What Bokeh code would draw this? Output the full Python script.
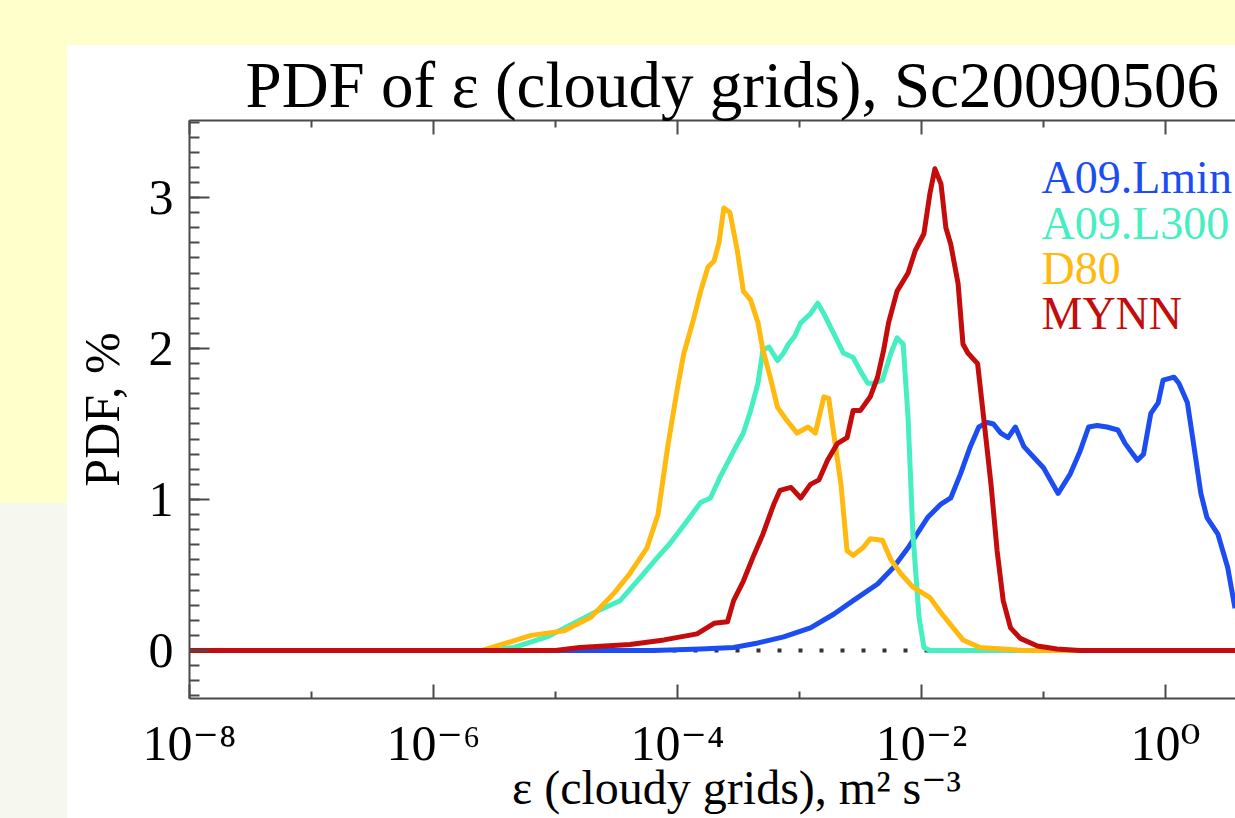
import numpy as np
from bokeh.plotting import figure
from bokeh.models import FixedTicker, CustomJSTickFormatter, LogAxis, Label, Span, Div
from bokeh.layouts import row, column
from bokeh.embed import file_html
from bokeh.resources import INLINE

# ---------------- data (log10 of epsilon, PDF in %) ----------------
series_names = ["A09.Lmin", "A09.L300", "D80", "MYNN"]
series_colors = ["#1C4DF2", "#45EFC0", "#FFB90F", "#C40C0C"]

lmin_log_eps = [-8.0, -4.2, -3.81, -3.54, -3.34, -3.13, -2.91, -2.72, -2.56, -2.36, -2.23, -2.11,
                -1.95, -1.84, -1.76, -1.68, -1.60, -1.53, -1.46, -1.41, -1.35, -1.29, -1.23, -1.16,
                -1.08, -1.00, -0.88, -0.78, -0.70, -0.63, -0.56, -0.48, -0.39, -0.33, -0.23, -0.18,
                -0.12, -0.06, -0.02, 0.07, 0.11, 0.18, 0.23, 0.29, 0.34, 0.43, 0.51, 0.57]
lmin_pdf = [0.0, 0.0, 0.01, 0.02, 0.05, 0.09, 0.15, 0.24, 0.33, 0.44, 0.55, 0.68,
            0.88, 0.97, 1.01, 1.17, 1.35, 1.48, 1.51, 1.50, 1.44, 1.41, 1.48, 1.35,
            1.28, 1.21, 1.04, 1.17, 1.32, 1.48, 1.49, 1.48, 1.46, 1.37, 1.26, 1.30,
            1.57, 1.64, 1.79, 1.81, 1.77, 1.64, 1.37, 1.04, 0.88, 0.77, 0.55, 0.28]

l300_log_eps = [-8.0, -5.6, -5.34, -5.07, -4.85, -4.66, -4.47, -4.33, -4.16, -4.06, -3.92, -3.81,
                -3.73, -3.65, -3.54, -3.46, -3.40, -3.34, -3.30, -3.25, -3.18, -3.13, -3.09, -3.04,
                -2.99, -2.91, -2.85, -2.80, -2.72, -2.64, -2.56, -2.50, -2.44, -2.39, -2.32, -2.25,
                -2.20, -2.15, -2.11, -2.07, -2.02, -1.98, -1.93, 0.6]
l300_pdf = [0.0, 0.0, 0.02, 0.09, 0.18, 0.26, 0.33, 0.46, 0.62, 0.71, 0.86, 0.98,
            1.01, 1.15, 1.32, 1.44, 1.59, 1.77, 1.99, 2.01, 1.92, 1.97, 2.03, 2.08,
            2.17, 2.23, 2.30, 2.23, 2.10, 1.97, 1.94, 1.85, 1.77, 1.77, 1.79, 1.97,
            2.07, 2.03, 1.54, 0.77, 0.22, 0.02, 0.0, 0.0]

d80_log_eps = [-8.0, -5.6, -5.48, -5.20, -4.93, -4.71, -4.52, -4.39, -4.25, -4.16, -4.08, -4.00,
               -3.95, -3.87, -3.81, -3.75, -3.70, -3.66, -3.62, -3.57, -3.51, -3.46, -3.40, -3.34,
               -3.30, -3.24, -3.18, -3.10, -3.02, -2.93, -2.87, -2.80, -2.76, -2.72, -2.66, -2.61,
               -2.56, -2.48, -2.42, -2.32, -2.25, -2.17, -2.07, -1.93, -1.84, -1.74, -1.66, -1.52,
               -1.16, 0.6]
d80_pdf = [0.0, 0.0, 0.03, 0.10, 0.13, 0.22, 0.38, 0.51, 0.68, 0.90, 1.35, 1.74,
           1.96, 2.19, 2.38, 2.54, 2.58, 2.70, 2.93, 2.90, 2.65, 2.38, 2.32, 2.17,
           1.99, 1.81, 1.61, 1.52, 1.44, 1.48, 1.44, 1.68, 1.67, 1.44, 1.10, 0.66,
           0.63, 0.68, 0.74, 0.73, 0.60, 0.51, 0.42, 0.35, 0.25, 0.15, 0.07, 0.02,
           0.0, 0.0]

mynn_log_eps = [-8.0, -5.0, -4.80, -4.39, -4.11, -3.84, -3.70, -3.59, -3.54, -3.46, -3.38, -3.30,
                -3.21, -3.16, -3.07, -2.99, -2.91, -2.84, -2.77, -2.69, -2.61, -2.56, -2.50, -2.42,
                -2.36, -2.31, -2.27, -2.20, -2.11, -2.05, -1.98, -1.93, -1.89, -1.84, -1.80, -1.76,
                -1.70, -1.66, -1.62, -1.54, -1.49, -1.43, -1.38, -1.33, -1.27, -1.19, -1.05, -0.89,
                -0.7, 0.6]
mynn_pdf = [0.0, 0.0, 0.02, 0.04, 0.07, 0.11, 0.18, 0.19, 0.33, 0.46, 0.62, 0.77,
            0.97, 1.06, 1.08, 1.01, 1.10, 1.13, 1.26, 1.37, 1.41, 1.59, 1.59, 1.68,
            1.81, 1.99, 2.17, 2.38, 2.50, 2.65, 2.76, 3.03, 3.19, 3.09, 2.80, 2.69,
            2.43, 2.03, 1.97, 1.90, 1.54, 1.10, 0.66, 0.33, 0.15, 0.08, 0.03, 0.01,
            0.0, 0.0]

x_major_ticks = [1e-8, 1e-6, 1e-4, 1e-2, 1e0]
x_minor_ticks = [1e-7, 1e-5, 1e-3, 1e-1]
y_major_ticks = [0, 1, 2, 3]

title_text = "PDF of \u03b5 (cloudy grids), Sc20090506"
xlabel_text = "\u03b5 (cloudy grids), m\u00b2 s\u207b\u00b3"
ylabel_text = "PDF, %"

# ---------------- figure ----------------
FONT = "Liberation Serif"
FONT_SUP = "Liberation Serif, DejaVu Serif, serif"
AX = "#4a4a4a"

p = figure(width=1168, height=773, x_axis_type="log",
           x_range=(1e-8, 10 ** 0.574), y_range=(-0.318, 3.51),
           output_backend="svg", toolbar_location=None,
           min_border_left=122, min_border_right=0, min_border_top=75, min_border_bottom=120)
p.outline_line_color = None
p.xgrid.visible = False
p.ygrid.visible = False
p.background_fill_color = "white"
p.border_fill_color = "white"

p.title.text = title_text
p.title.text_font = FONT
p.title.text_font_size = "65px"
p.title.text_font_style = "normal"
p.title.text_color = "black"
p.title.align = "left"
p.title.offset = 56
p.title.standoff = 0

sup_fmt = CustomJSTickFormatter(code="""
const e = Math.round(Math.log10(tick));
const s = {"-":"\u207b","0":"\u2070","1":"\u00b9","2":"\u00b2","3":"\u00b3","4":"\u2074","5":"\u2075","6":"\u2076","7":"\u2077","8":"\u2078","9":"\u2079"};
return "10" + String(e).split("").map(c => s[c]).join("");
""")
blank_fmt = CustomJSTickFormatter(code='return "";')

xa = p.xaxis[0]
xa.ticker = FixedTicker(ticks=x_major_ticks, minor_ticks=x_minor_ticks)
xa.formatter = sup_fmt
xa.major_label_text_font = FONT_SUP
xa.major_label_text_font_size = "50px"
xa.major_label_text_color = "black"
xa.major_label_standoff = 16
xa.major_tick_in = 14
xa.major_tick_out = 0
xa.minor_tick_in = 7
xa.minor_tick_out = 0
xa.axis_line_color = AX
xa.axis_line_width = 2
xa.major_tick_line_color = AX
xa.major_tick_line_width = 2
xa.minor_tick_line_color = AX
xa.minor_tick_line_width = 2
xa.axis_label = "\u00a0" * 4 + xlabel_text
xa.axis_label_text_font = FONT_SUP
xa.axis_label_text_font_size = "48px"
xa.axis_label_text_font_style = "normal"
xa.axis_label_text_color = "black"
xa.axis_label_standoff = -13

top = LogAxis(ticker=FixedTicker(ticks=x_major_ticks, minor_ticks=x_minor_ticks),
              formatter=blank_fmt, major_label_text_font_size="1px", major_label_text_alpha=0,
              major_tick_in=14, major_tick_out=0, minor_tick_in=7, minor_tick_out=0,
              axis_line_color=AX, axis_line_width=2,
              major_tick_line_color=AX, major_tick_line_width=2,
              minor_tick_line_color=AX, minor_tick_line_width=2, major_label_standoff=0)
p.add_layout(top, "above")

ya = p.yaxis[0]
ya.ticker = FixedTicker(ticks=y_major_ticks,
                        minor_ticks=[float(v) for v in np.round(np.arange(-0.3, 3.55, 0.1), 2)])
ya.major_label_text_font = FONT
ya.major_label_text_font_size = "50px"
ya.major_label_text_color = "black"
ya.major_label_standoff = 16
ya.major_tick_in = 20
ya.major_tick_out = 0
ya.minor_tick_in = 10
ya.minor_tick_out = 0
ya.axis_line_color = AX
ya.axis_line_width = 2
ya.major_tick_line_color = AX
ya.major_tick_line_width = 2
ya.minor_tick_line_color = AX
ya.minor_tick_line_width = 2
ya.axis_label = ylabel_text
ya.axis_label_text_font = FONT
ya.axis_label_text_font_size = "50px"
ya.axis_label_text_font_style = "normal"
ya.axis_label_text_color = "black"
ya.axis_label_standoff = 16

# dotted zero line
p.add_layout(Span(location=0, dimension="width", line_color="#333333", line_width=4,
                  line_dash="4 17", level="underlay"))

all_series = [(lmin_log_eps, lmin_pdf), (l300_log_eps, l300_pdf), (d80_log_eps, d80_pdf),
              (mynn_log_eps, mynn_pdf)]
for (lx, yv), col in zip(all_series, series_colors):
    p.line(np.power(10.0, np.array(lx)), yv, line_color=col, line_width=5, line_join="round")

# legend texts (screen units relative to the plot frame)
legend_y = [521, 475, 430, 385]
for name, col, ly in zip(series_names, series_colors, legend_y):
    p.add_layout(Label(x=852, y=ly, x_units="screen", y_units="screen", text=name,
                       text_font=FONT, text_font_size="46px", text_color=col,
                       text_align="left", text_baseline="alphabetic"))

# slide background around the chart
top_band = Div(width=1235, height=45, margin=0, styles={"background-color": "#FFFFCC"})
left_yellow = Div(width=67, height=458, margin=0, styles={"background-color": "#FFFFCC"})
left_grey = Div(width=67, height=315, margin=0, styles={"background-color": "#F6F7EE"})
layout = column(column(top_band), row(column(left_yellow, left_grey), p))

open("out.html", "w", encoding="utf-8").write(file_html(layout, INLINE))
